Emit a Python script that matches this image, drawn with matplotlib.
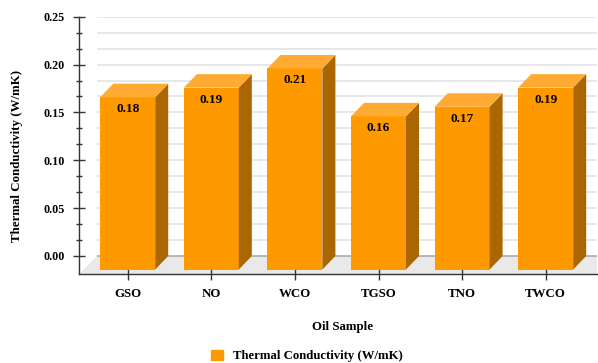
import matplotlib
matplotlib.use('Agg')
import matplotlib.pyplot as plt
from matplotlib.patches import Polygon, Patch
import numpy as np

plt.rcParams['font.family'] = ['Liberation Serif', 'DejaVu Serif']
plt.rcParams['font.weight'] = 'bold'

samples = ['GSO', 'NO', 'WCO', 'TGSO', 'TNO', 'TWCO']
conductivity = [0.18, 0.19, 0.21, 0.16, 0.17, 0.19]
series_name = 'Thermal Conductivity (W/mK)'

front_col = '#ff9900'
top_col = '#ffab33'
side_col = '#aa6600'

W, H = 598, 363
fig = plt.figure(figsize=(W / 100, H / 100), dpi=100)

# axes box in pixels (from top-left)
ax_l, ax_r, ax_t, ax_b = 79, 597, 16.7, 274
ax = fig.add_axes([ax_l / W, 1 - ax_b / H, (ax_r - ax_l) / W, (ax_b - ax_t) / H])

ymax = 0.25
zero_px = 256
py = (zero_px - ax_t) / ymax          # pixels per unit value
ymin = -(ax_b - zero_px) / py
px = 83.6                             # pixels per category
xmin = -48.7 / px
xmax = xmin + (ax_r - ax_l) / px
ax.set_xlim(xmin, xmax)
ax.set_ylim(ymin, ymax)

# depth offsets for bars and the floor, in data units
bdx, bdy = 13 / px, 13.5 / py
fdx = 18 / px

# floor
floor = Polygon([(xmin, ymin), (xmax, ymin), (xmax, 0), (xmin + fdx, 0)],
                closed=True, facecolor='#e9e9e9', edgecolor='none', zorder=1)
ax.add_patch(floor)

# back-wall gridlines
for g in np.arange(0, ymax + 1e-9, 0.05 / 3):
    col = '#a6a6a6' if g == 0 else '#e2e2e2'
    ax.plot([xmin + fdx, xmax], [g, g], color=col, lw=1.1, zorder=2,
            solid_capstyle='butt')

# pseudo-3D bars
bw = 55 / px
y0 = -bdy
for i, v in enumerate(conductivity):
    x0, x1 = i - bw / 2, i + bw / 2
    yt = y0 + v
    ax.add_patch(Polygon([(x0, y0), (x1, y0), (x1, yt), (x0, yt)],
                         facecolor=front_col, edgecolor='none', zorder=4))
    ax.add_patch(Polygon([(x1, y0), (x1 + bdx, y0 + bdy), (x1 + bdx, yt + bdy), (x1, yt)],
                         facecolor=side_col, edgecolor='none', zorder=4))
    ax.add_patch(Polygon([(x0, yt), (x1, yt), (x1 + bdx, yt + bdy), (x0 + bdx, yt + bdy)],
                         facecolor=top_col, edgecolor='none', zorder=4))
    ax.text(i, yt - 12 / py, f'{v:.2f}', ha='center', va='center',
            fontsize=9.5, fontweight='bold', color='black', zorder=5)

for s in ['top', 'right']:
    ax.spines[s].set_visible(False)
for s in ['left', 'bottom']:
    ax.spines[s].set_color('#333333')
    ax.spines[s].set_linewidth(1)
    ax.spines[s].set_zorder(6)

ax.set_yticks(np.arange(0, ymax + 1e-9, 0.05))
ax.set_yticks(np.arange(0, ymax + 1e-9, 0.05 / 3), minor=True)
ax.set_yticklabels([f'{t:.2f}' for t in np.arange(0, ymax + 1e-9, 0.05)])
ax.tick_params(axis='y', which='major', direction='inout', length=9, width=1,
               color='#333333', pad=5.5, labelsize=8.7)
ax.tick_params(axis='y', which='minor', direction='inout', length=4.3, width=1,
               color='#333333')
ax.set_xticks(range(len(samples)))
ax.set_xticklabels(samples)
ax.tick_params(axis='x', direction='inout', length=8.6, width=1,
               color='#333333', pad=6, labelsize=9.3)
for lab in ax.get_xticklabels() + ax.get_yticklabels():
    lab.set_fontweight('bold')

ax.set_facecolor('none')
fig.text(17 / W, 1 - 156 / H, series_name, rotation=90, ha='center', va='center',
         fontsize=9.3, fontweight='bold')
fig.text(343 / W, 1 - 327 / H, 'Oil Sample', ha='center', va='center',
         fontsize=9.3, fontweight='bold')

fig.legend(handles=[Patch(color=front_col, label=series_name)], loc='center',
           bbox_to_anchor=(307 / W, 1 - 356 / H), frameon=False,
           handlelength=0.9, handleheight=0.9, handletextpad=0.8,
           prop={'size': 9.2, 'weight': 'bold'})

fig.savefig('out.png', dpi=100)
